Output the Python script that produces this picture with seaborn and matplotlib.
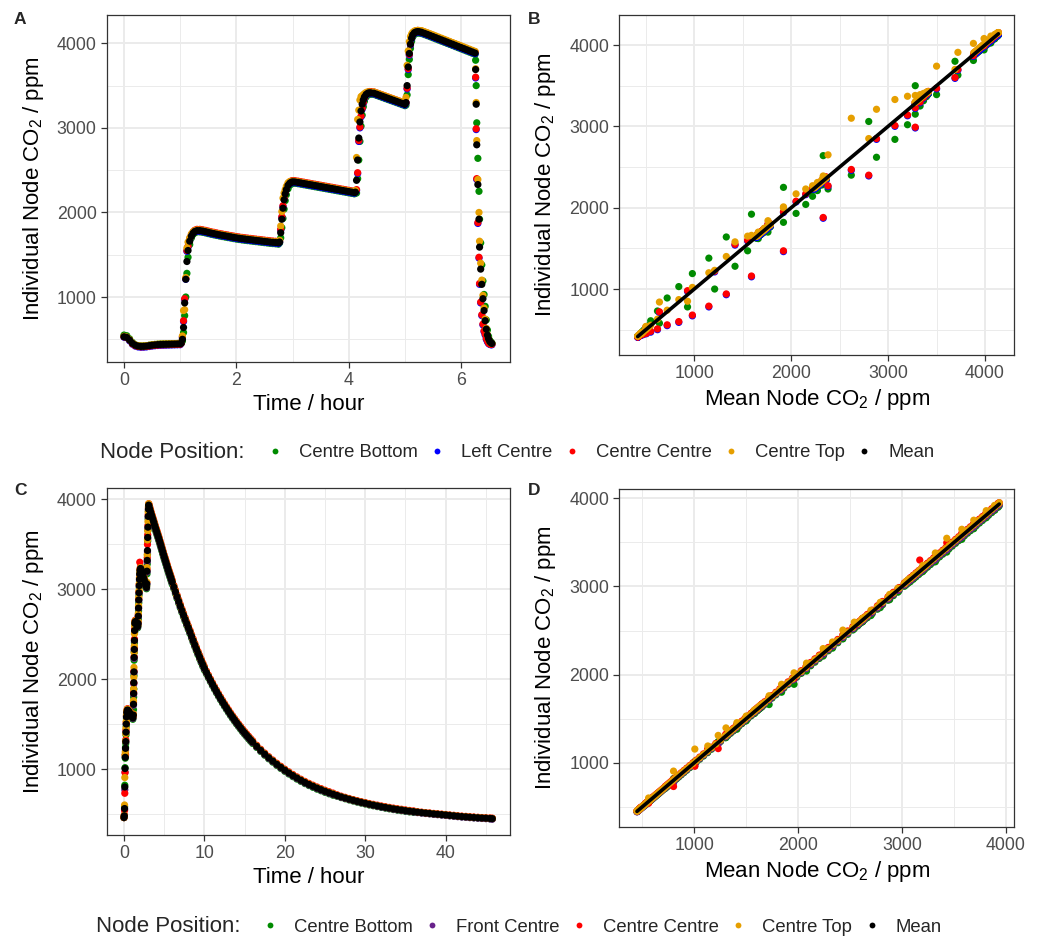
import matplotlib
matplotlib.use("Agg")
import numpy as np
import pandas as pd
import matplotlib.pyplot as plt
import seaborn as sns
from matplotlib.lines import Line2D
from matplotlib.ticker import MultipleLocator

# ======================= Experiment 1 (panels A, B) =======================
time_a = [
    0.00, 0.05, 0.10, 0.15, 0.20, 0.25, 0.30, 0.35, 0.40, 0.45,
    0.50, 0.55, 0.60, 0.65, 0.70, 0.75, 0.80, 0.85, 0.90, 0.95, 1.00,
    1.02, 1.04, 1.06, 1.08, 1.10, 1.12, 1.14, 1.17, 1.20, 1.23, 1.26, 1.30,
    1.35, 1.40, 1.45, 1.50, 1.55, 1.60, 1.65, 1.70, 1.75, 1.80,
    1.85, 1.90, 1.95, 2.00, 2.05, 2.10, 2.15, 2.20, 2.25, 2.30,
    2.35, 2.40, 2.45, 2.50, 2.55, 2.60, 2.65, 2.70, 2.75,
    2.77, 2.79, 2.81, 2.83, 2.85, 2.87, 2.89, 2.92, 2.95, 2.98, 3.01,
    3.05, 3.10, 3.15, 3.20, 3.25, 3.30, 3.35, 3.40, 3.45, 3.50,
    3.55, 3.60, 3.65, 3.70, 3.75, 3.80, 3.85, 3.90, 3.95, 4.00,
    4.05, 4.10,
    4.12, 4.14, 4.16, 4.18, 4.20, 4.22, 4.24, 4.26, 4.28, 4.31, 4.34, 4.37, 4.40,
    4.45, 4.50, 4.55, 4.60, 4.65, 4.70, 4.75, 4.80, 4.85, 4.90, 4.95, 5.00,
    5.02, 5.04, 5.06, 5.08, 5.10, 5.12, 5.14, 5.17, 5.20, 5.23, 5.26,
    5.30, 5.35, 5.40, 5.45, 5.50, 5.55, 5.60, 5.65, 5.70, 5.75,
    5.80, 5.85, 5.90, 5.95, 6.00, 6.05, 6.10, 6.15, 6.20, 6.25,
    6.26, 6.27, 6.28, 6.30, 6.32, 6.33, 6.35, 6.37, 6.39, 6.41, 6.43, 6.45, 6.47, 6.49, 6.51, 6.53, 6.55,
]

mean_a = [
    530, 522, 490, 452, 430, 420, 416, 417, 420, 425,
    430, 434, 437, 439, 440, 441, 442, 443, 444, 445, 446,
    455, 500, 640, 930, 1210, 1420, 1550, 1660, 1720, 1755, 1775, 1785,
    1785, 1780, 1773, 1765, 1757, 1750, 1743, 1736, 1730, 1724,
    1718, 1712, 1706, 1700, 1695, 1690, 1686, 1682, 1678, 1674,
    1670, 1666, 1662, 1658, 1654, 1650, 1647, 1644, 1640,
    1650, 1760, 1920, 2050, 2150, 2220, 2270, 2320, 2345, 2358, 2362,
    2360, 2355, 2349, 2343, 2337, 2331, 2325, 2319, 2313, 2307,
    2301, 2295, 2289, 2283, 2277, 2271, 2265, 2259, 2253, 2247,
    2241, 2235,
    2240, 2380, 2620, 2880, 3070, 3200, 3280, 3330, 3365, 3395, 3410, 3415, 3413,
    3410, 3398, 3386, 3374, 3362, 3350, 3338, 3326, 3314, 3302, 3290, 3278,
    3300, 3500, 3720, 3880, 3990, 4060, 4100, 4125, 4135, 4138, 4136,
    4130, 4118, 4106, 4093, 4080, 4067, 4054, 4041, 4028, 4015,
    4002, 3989, 3976, 3963, 3950, 3937, 3924, 3911, 3898, 3885,
    3690, 3280, 2800, 2330, 1920, 1590, 1330, 1150, 980, 840, 720, 620, 550, 505, 475, 460, 450,
]

# node readings relative to the mean (ppm)
centre_bottom_dev_a = [
    20, 20, 15, 10, 5, 5, 5, 5, 5, 5,
    5, 5, 5, 5, 5, 5, 5, 5, 5, 5, 5,
    0, -20, -60, -150, -210, -140, -80, -40, -20, -15, -15, -15,
    -15, -15, -15, -15, -15, -15, -15, -15, -15, -15,
    -15, -15, -15, -15, -15, -15, -15, -15, -15, -15,
    -15, -15, -15, -15, -15, -15, -15, -15, -15,
    -10, -60, -100, -120, -110, -80, -60, -40, -25, -20, -15,
    -15, -15, -15, -15, -15, -15, -15, -15, -15, -15,
    -15, -15, -15, -15, -15, -15, -15, -15, -15, -15,
    -15, -15,
    -10, -150, -220, -260, -230, -180, -130, -80, -50, -30, -20, -15, -15,
    -15, -15, -15, -15, -15, -15, -15, -15, -15, -15, -15, -15,
    -30, -110, -90, -70, -50, -35, -25, -20, -15, -15, -15,
    -15, -15, -15, -15, -15, -15, -15, -15, -15, -15,
    -15, -15, -15, -15, -15, -15, -15, -15, -15, -15,
    110, 220, 260, 310, 330, 330, 310, 230, 210, 190, 170, 110, 60, 30, 15, 10, 5,
]

left_centre_dev_a = [
    -5, -5, -8, -10, -10, -10, -10, -10, -10, -10,
    -10, -10, -10, -10, -10, -10, -10, -10, -10, -10, -10,
    0, 20, 70, 40, 0, 120, 40, 20, 10, 5, -5, -8,
    -8, -8, -8, -8, -8, -8, -8, -8, -8, -8,
    -8, -8, -8, -8, -8, -8, -8, -8, -8, -8,
    -8, -8, -8, -8, -8, -8, -8, -8, -8,
    0, 30, 20, 20, 10, 10, 5, 0, -5, -8, -8,
    -8, -8, -8, -8, -8, -8, -8, -8, -8, -8,
    -8, -8, -8, -8, -8, -8, -8, -8, -8, -8,
    -8, -8,
    0, -120, -160, -40, -70, -70, -60, -40, -20, -10, 0, -5, -8,
    -8, -8, -8, -8, -8, -8, -8, -8, -8, -8, -8, -8,
    -5, -40, -30, -20, -10, -5, -5, -8, -8, -8, -8,
    -8, -8, -8, -8, -8, -8, -8, -8, -8, -8,
    -8, -8, -8, -8, -8, -8, -8, -8, -8, -8,
    -100, -300, -410, -460, -460, -440, -400, -370, -310, -250, -170, -120, -80, -55, -35, -25, -15,
]

centre_centre_dev_a = [
    0, 0, 0, -5, -5, -5, -5, -5, -5, -5,
    -5, -5, -5, -5, -5, -5, -5, -5, -5, -5, -5,
    0, 30, 80, 50, 10, 130, 50, 30, 20, 15, 15, 15,
    15, 15, 15, 15, 15, 15, 15, 15, 15, 15,
    15, 15, 15, 15, 15, 15, 15, 15, 15, 15,
    15, 15, 15, 15, 15, 15, 15, 15, 15,
    10, 40, 30, 30, 20, 20, 15, 15, 15, 15, 15,
    15, 15, 15, 15, 15, 15, 15, 15, 15, 15,
    15, 15, 15, 15, 15, 15, 15, 15, 15, 15,
    15, 15,
    10, -110, -150, -30, -60, -60, -50, -30, -10, 0, 10, 15, 15,
    15, 15, 15, 15, 15, 15, 15, 15, 15, 15, 15, 15,
    0, -30, -20, -10, 0, 5, 10, 12, 15, 15, 15,
    15, 15, 15, 15, 15, 15, 15, 15, 15, 15,
    15, 15, 15, 15, 15, 15, 15, 15, 15, 15,
    -90, -290, -400, -450, -450, -430, -390, -360, -300, -240, -160, -110, -70, -50, -30, -20, -10,
]

centre_top_dev_a = [
    5, 5, 5, 5, 5, 5, 5, 5, 5, 5,
    5, 5, 5, 5, 5, 5, 5, 5, 5, 5, 10,
    10, 40, 200, -80, 20, 160, 100, 40, 25, 15, 10, 8,
    8, 8, 8, 8, 8, 8, 8, 8, 8, 8,
    8, 8, 8, 8, 8, 8, 8, 8, 8, 8,
    8, 8, 8, 8, 8, 8, 8, 8, 8,
    20, 80, 90, 120, 80, 50, 40, 30, 20, 10, 8,
    8, 8, 8, 8, 8, 8, 8, 8, 8, 8,
    8, 8, 8, 8, 8, 8, 8, 8, 8, 8,
    8, 8,
    20, 270, 480, 330, 260, 170, 100, 60, 40, 25, 15, 10, 8,
    15, 15, 15, 15, 15, 15, 15, 15, 15, 15, 15, 15,
    60, 240, 190, 140, 90, 50, 30, 20, 15, 15, 15,
    20, 20, 20, 20, 20, 20, 20, 20, 20, 20,
    20, 20, 20, 20, 20, 20, 20, 20, 20, 20,
    10, 20, 50, 60, 80, 70, 70, 50, 40, 30, 20, 10, 5, 0, 0, 0, 0,
]

# ======================= Experiment 2 (panels C, D) =======================
time_c = [
    0.00, 0.04, 0.07, 0.10, 0.13, 0.16, 0.19, 0.22, 0.25, 0.28, 0.31, 0.35, 0.42,
    0.50, 0.60, 0.70, 0.80, 0.90, 1.00, 1.10,
    1.16, 1.18, 1.20, 1.22, 1.24, 1.26, 1.28, 1.30, 1.32, 1.35,
    1.40, 1.50, 1.60, 1.70,
    1.75, 1.78, 1.81, 1.84, 1.87, 1.90, 1.93, 1.96, 2.00, 2.05,
    2.10, 2.20, 2.30, 2.40, 2.50, 2.60, 2.70, 2.80,
    2.83, 2.86, 2.89, 2.92, 2.95, 2.98, 3.01, 3.04, 3.07,
    3.1, 3.2, 3.3, 3.4, 3.5, 3.6, 3.7, 3.8, 3.9, 4.0,
    4.1, 4.2, 4.3, 4.4, 4.5, 4.6, 4.7, 4.8, 4.9, 5.0,
    5.1, 5.2, 5.3, 5.4, 5.5, 5.6, 5.7, 5.8, 5.9, 6.0,
    6.2, 6.4, 6.6, 6.8, 7.0, 7.2, 7.4, 7.6, 7.8, 8.0,
    8.2, 8.4, 8.6, 8.8, 9.0, 9.2, 9.4, 9.6, 9.8, 10.0,
    10.25, 10.5, 10.75, 11.0, 11.25, 11.5, 11.75, 12.0, 12.25, 12.5, 12.75, 13.0,
    13.25, 13.5, 13.75, 14.0, 14.25, 14.5, 14.75, 15.0, 15.25, 15.5, 15.75, 16.0,
    16.5, 17.0, 17.5, 18.0, 18.5, 19.0, 19.5, 20.0, 20.5, 21.0,
    21.5, 22.0, 22.5, 23.0, 23.5, 24.0, 24.5, 25.0, 25.5, 26.0,
    26.5, 27.0, 27.5, 28.0, 28.5, 29.0, 29.5, 30.0, 30.5, 31.0,
    31.5, 32.0, 32.5, 33.0, 33.5, 34.0, 34.5, 35.0, 35.5, 36.0,
    36.5, 37.0, 37.5, 38.0, 38.5, 39.0, 39.5, 40.0, 40.5, 41.0,
    41.5, 42.0, 42.5, 43.0, 43.5, 44.0, 44.5, 45.0, 45.5,
    45.8,
]

mean_c = [
    460, 480, 560, 800, 1005, 1130, 1230, 1305, 1410, 1500, 1580, 1630, 1655,
    1652, 1640, 1625, 1610, 1595, 1580, 1568,
    1600, 1720, 1840, 1960, 2080, 2240, 2330, 2430, 2540, 2620,
    2640, 2625, 2600, 2585,
    2620, 2700, 2790, 2880, 2960, 3040, 3110, 3170, 3210, 3230,
    3225, 3200, 3170, 3140, 3110, 3080, 3050, 3020,
    3060, 3200, 3320, 3430, 3575, 3690, 3810, 3890, 3935,
    3924, 3893, 3863, 3832, 3803, 3773, 3744, 3714, 3686, 3657,
    3629, 3600, 3573, 3545, 3514, 3483, 3452, 3421, 3391, 3361,
    3332, 3302, 3273, 3245, 3216, 3188, 3160, 3133, 3106, 3079,
    3024, 2970, 2916, 2864, 2812, 2762, 2713, 2665, 2618, 2572,
    2526, 2477, 2429, 2381, 2335, 2290, 2246, 2203, 2161, 2120,
    2074, 2029, 1986, 1943, 1902, 1862, 1823, 1785, 1748, 1712, 1677, 1643,
    1609, 1577, 1546, 1515, 1486, 1457, 1428, 1401, 1375, 1349, 1323, 1299,
    1252, 1207, 1165, 1125, 1088, 1052, 1018, 986, 956, 927,
    900, 874, 850, 828, 808, 788, 770, 752, 736, 720,
    705, 690, 677, 664, 652, 640, 629, 619, 608, 599,
    590, 581, 573, 565, 557, 550, 544, 537, 531, 526,
    520, 515, 510, 506, 501, 497, 493, 489, 484, 480,
    475, 471, 468, 464, 461, 458, 455, 453, 450,
    448,
]

centre_bottom_dev_c = [
    0, 0, 20, 20, 10, -10, 10, -20, -30, -25, -20, -15, -15,
    -15, -15, -15, -15, -15, -15, -15,
    -10, -60, -40, -70, -40, -30, -30, -25, -20, -15,
    -15, -15, -15, -15,
    -20, -30, -30, -30, -25, -20, -20, -15, -15, -15,
    -15, -15, -15, -15, -15, -15, -15, -15,
    -20, -30, -40, -40, -40, -35, -30, -25, -20,
    -25, -25, -25, -25, -25, -25, -25, -25, -25, -25,
    -25, -25, -25, -25, -25, -25, -25, -25, -25, -25,
    -25, -25, -25, -25, -25, -25, -25, -25, -25, -25,
    -20, -20, -20, -20, -20, -20, -20, -20, -20, -20,
    -20, -20, -20, -20, -20, -20, -20, -20, -20, -20,
    -15, -15, -15, -15, -15, -15, -15, -15, -15, -15, -15, -15,
    -15, -15, -15, -15, -15, -15, -15, -15, -15, -15, -15, -15,
    -12, -12, -12, -12, -12, -12, -12, -12, -12, -12,
    -12, -12, -12, -12, -12, -12, -12, -12, -12, -12,
    -8, -8, -8, -8, -8, -8, -8, -8, -8, -8,
    -8, -8, -8, -8, -8, -8, -8, -8, -8, -8,
    -3, -3, -3, -3, -3, -3, -3, -3, -3, -3,
    -3, -3, -3, -3, -3, -3, -3, -3, -3,
    -2,
]

front_centre_dev_c = [
    0, -5, -10, -30, -40, 10, -20, 0, 0, 0, 0, -5, -5,
    -5, -5, -5, -5, -5, -5, -5,
    0, -10, -10, -15, -10, -10, -10, -5, -5, -5,
    -5, -5, -5, -5,
    -5, -5, -5, -5, -5, -5, -5, -5, -5, -5,
    -5, -5, -5, -5, -5, -5, -5, -5,
    -5, -10, -15, -15, -15, -15, -10, -10, -8,
    -10, -10, -10, -10, -10, -10, -10, -10, -10, -10,
    -10, -10, -10, -10, -10, -10, -10, -10, -10, -10,
    -10, -10, -10, -10, -10, -10, -10, -10, -10, -10,
    -8, -8, -8, -8, -8, -8, -8, -8, -8, -8,
    -8, -8, -8, -8, -8, -8, -8, -8, -8, -8,
    -6, -6, -6, -6, -6, -6, -6, -6, -6, -6, -6, -6,
    -6, -6, -6, -6, -6, -6, -6, -6, -6, -6, -6, -6,
    -5, -5, -5, -5, -5, -5, -5, -5, -5, -5,
    -5, -5, -5, -5, -5, -5, -5, -5, -5, -5,
    -4, -4, -4, -4, -4, -4, -4, -4, -4, -4,
    -4, -4, -4, -4, -4, -4, -4, -4, -4, -4,
    -5, -5, -5, -5, -5, -5, -5, -5, -5, -5,
    -5, -5, -5, -5, -5, -5, -5, -5, -5,
    -6,
]

centre_centre_dev_c = [
    0, 10, -20, -70, -45, 30, -70, 20, 25, 20, 15, 15, 15,
    15, 15, 15, 15, 15, 15, 15,
    10, 20, 10, 0, 10, 10, 15, 15, 15, 15,
    15, 15, 15, 15,
    15, 15, 15, 15, 15, 15, 15, 130, 15, 15,
    15, 15, 15, 15, 15, 15, 15, 15,
    15, 20, 30, 67, 30, 20, 20, 15, 15,
    20, 20, 20, 20, 20, 20, 20, 20, 20, 20,
    20, 20, 20, 20, 20, 20, 20, 20, 20, 20,
    20, 20, 20, 20, 20, 20, 20, 20, 20, 20,
    18, 18, 18, 18, 18, 18, 18, 18, 18, 18,
    18, 18, 18, 18, 18, 18, 18, 18, 18, 18,
    15, 15, 15, 15, 15, 15, 15, 15, 15, 15, 15, 15,
    15, 15, 15, 15, 15, 15, 15, 15, 15, 15, 15, 15,
    12, 12, 12, 12, 12, 12, 12, 12, 12, 12,
    12, 12, 12, 12, 12, 12, 12, 12, 12, 12,
    8, 8, 8, 8, 8, 8, 8, 8, 8, 8,
    8, 8, 8, 8, 8, 8, 8, 8, 8, 8,
    5, 5, 5, 5, 5, 5, 5, 5, 5, 5,
    5, 5, 5, 5, 5, 5, 5, 5, 5,
    5,
]

centre_top_dev_c = [
    0, 5, 40, 105, 150, 60, 80, 90, 45, 30, 20, 15, 10,
    10, 10, 10, 10, 10, 10, 10,
    10, 40, 50, 60, 50, 55, 40, 75, 55, 10,
    10, 10, 10, 10,
    20, 30, 30, 30, 20, 20, 15, 15, 10, 10,
    10, 10, 10, 10, 10, 10, 10, 10,
    20, 40, 60, 117, 74, 62, 50, 30, 15,
    10, 10, 10, 10, 10, 10, 10, 10, 10, 10,
    10, 10, 10, 10, 10, 10, 10, 10, 10, 10,
    10, 10, 10, 10, 10, 10, 10, 10, 10, 10,
    8, 8, 8, 8, 8, 8, 8, 8, 8, 8,
    8, 8, 8, 8, 8, 8, 8, 8, 8, 8,
    6, 6, 6, 6, 6, 6, 6, 6, 6, 6, 6, 6,
    6, 6, 6, 6, 6, 6, 6, 6, 6, 6, 6, 6,
    5, 5, 5, 5, 5, 5, 5, 5, 5, 5,
    5, 5, 5, 5, 5, 5, 5, 5, 5, 5,
    3, 3, 3, 3, 3, 3, 3, 3, 3, 3,
    3, 3, 3, 3, 3, 3, 3, 3, 3, 3,
    2, 2, 2, 2, 2, 2, 2, 2, 2, 2,
    2, 2, 2, 2, 2, 2, 2, 2, 2,
    2,
]

nodes_a = ["Centre Bottom", "Left Centre", "Centre Centre", "Centre Top", "Mean"]
nodes_c = ["Centre Bottom", "Front Centre", "Centre Centre", "Centre Top", "Mean"]
colors_a = ["#008B00", "#0000FF", "#FF0000", "#E69F00", "#000000"]
colors_c = ["#008B00", "#68228B", "#FF0000", "#E69F00", "#000000"]


def build(time, mean, devs, names):
    lens = [len(time), len(mean)] + [len(d) for d in devs]
    if len(set(lens)) != 1:
        raise ValueError(f"length mismatch: {lens}")
    mean = np.asarray(mean, float)
    frames = []
    for name, dev in zip(names[:-1], devs):
        frames.append(pd.DataFrame({"time": time, "mean": mean,
                                    "co2": mean + np.asarray(dev, float), "node": name}))
    frames.append(pd.DataFrame({"time": time, "mean": mean, "co2": mean, "node": names[-1]}))
    return pd.concat(frames, ignore_index=True)


df_a = build(time_a, mean_a, [centre_bottom_dev_a, left_centre_dev_a,
                              centre_centre_dev_a, centre_top_dev_a], nodes_a)
df_c = build(time_c, mean_c, [centre_bottom_dev_c, front_centre_dev_c,
                              centre_centre_dev_c, centre_top_dev_c], nodes_c)

# ======================= figure =======================
sns.set_theme(style="white")
plt.rcParams["font.family"] = ["Liberation Sans", "DejaVu Sans"]
plt.rcParams["mathtext.fontset"] = "custom"
plt.rcParams["mathtext.rm"] = "Liberation Sans"
plt.rcParams["mathtext.it"] = "Liberation Sans:italic"
plt.rcParams["mathtext.bf"] = "Liberation Sans:bold"

W, H = 1054, 940
fig = plt.figure(figsize=(W / 100, H / 100), dpi=100)
fig.patch.set_facecolor("white")


def add_ax(l, t, r, b):
    return fig.add_axes([l / W, 1 - b / H, (r - l) / W, (b - t) / H])


axA = add_ax(106.7, 15, 510, 362.3)
axB = add_ax(619.3, 15, 1014.3, 355)
axC = add_ax(106.7, 488.3, 510, 835)
axD = add_ax(619.3, 489, 1014.3, 826.7)

YLAB = "Individual Node CO$_\\mathregular{2}$ / ppm"
XLAB_M = "Mean Node CO$_\\mathregular{2}$ / ppm"
PT = 27


def style(ax, xmaj, xmin, ymaj, ymin, xlim, ylim, xlabel, ylabel):
    ax.set_facecolor("white")
    ax.set_xlim(*xlim)
    ax.set_ylim(*ylim)
    ax.set_xticks(xmaj)
    ax.set_yticks(ymaj)
    ax.xaxis.set_minor_locator(MultipleLocator(xmin))
    ax.yaxis.set_minor_locator(MultipleLocator(ymin))
    ax.grid(True, which="major", color="#EBEBEB", lw=1.4)
    ax.grid(True, which="minor", color="#EBEBEB", lw=0.7)
    ax.set_axisbelow(True)
    for s in ax.spines.values():
        s.set_visible(True)
        s.set_color("#333333")
        s.set_linewidth(0.9)
    ax.tick_params(which="major", bottom=True, left=True, length=4, width=0.9,
                   color="#333333", labelsize=12.8, labelcolor="#4D4D4D", pad=3.2)
    ax.tick_params(which="minor", bottom=False, left=False, length=0)
    ax.set_xlabel(xlabel, fontsize=16, color="black", labelpad=3.5)
    ax.set_ylabel(ylabel, fontsize=16, color="black", labelpad=8)


# ---- A
sns.scatterplot(data=df_a, x="time", y="co2", hue="node", hue_order=nodes_a,
                palette=colors_a, s=PT, linewidth=0, legend=False, ax=axA)
style(axA, [0, 2, 4, 6], 1, [1000, 2000, 3000, 4000], 500,
      (-0.308, 6.872), (228, 4335), "Time / hour", YLAB)

# ---- B
nod_a = df_a[df_a["node"] != "Mean"]
sns.scatterplot(data=nod_a, x="mean", y="co2", hue="node", hue_order=nodes_a[:-1],
                palette=colors_a[:-1], s=PT, linewidth=0, legend=False, ax=axB)
mean_only_a = df_a[df_a["node"] == "Mean"]
sns.lineplot(data=mean_only_a, x="mean", y="co2", color="black", lw=2.6,
             estimator=None, ax=axB)
style(axB, [1000, 2000, 3000, 4000], 500, [1000, 2000, 3000, 4000], 500,
      (226, 4302), (189, 4369), XLAB_M, YLAB)

# ---- C
sns.scatterplot(data=df_c, x="time", y="co2", hue="node", hue_order=nodes_c,
                palette=colors_c, s=PT, linewidth=0, legend=False, ax=axC)
style(axC, [0, 10, 20, 30, 40], 5, [1000, 2000, 3000, 4000], 500,
      (-2.15, 48.0), (266, 4122), "Time / hour", YLAB)

# ---- D
nod_c = df_c[df_c["node"] != "Mean"]
sns.scatterplot(data=nod_c, x="mean", y="co2", hue="node", hue_order=nodes_c[:-1],
                palette=colors_c[:-1], s=PT, linewidth=0, legend=False, ax=axD)
mean_only_c = df_c[df_c["node"] == "Mean"]
sns.lineplot(data=mean_only_c, x="mean", y="co2", color="black", lw=2.6,
             estimator=None, ax=axD)
style(axD, [1000, 2000, 3000, 4000], 500, [1000, 2000, 3000, 4000], 500,
      (278, 4080), (274, 4106), XLAB_M, YLAB)

# panel tags
for lab, x, y in [("A", 14, 12), ("B", 528, 12), ("C", 14, 483), ("D", 528, 483)]:
    fig.text(x / W, 1 - y / H, lab, fontsize=12.5, fontweight="bold", va="top", ha="left")


# legends
def legend_row(names, colors, y, x_title, x_first):
    fig.text(x_title / W, 1 - y / H, "Node Position:", fontsize=16, va="center", ha="left")
    handles = [Line2D([], [], ls="none", marker="o", ms=4.2, mfc=c, mec="none")
               for c in colors]
    fig.legend(handles, names, loc="center left",
               bbox_to_anchor=((x_first - 5.6) / W, 1 - y / H), ncol=5, frameon=False,
               fontsize=13.3, handlelength=0.6, handletextpad=0.98, columnspacing=0.77,
               borderpad=0, borderaxespad=0)


legend_row(nodes_a, colors_a, 453, 100, 275)
legend_row(nodes_c, colors_c, 927, 96, 270)

fig.savefig("out.png", dpi=100, facecolor="white")
